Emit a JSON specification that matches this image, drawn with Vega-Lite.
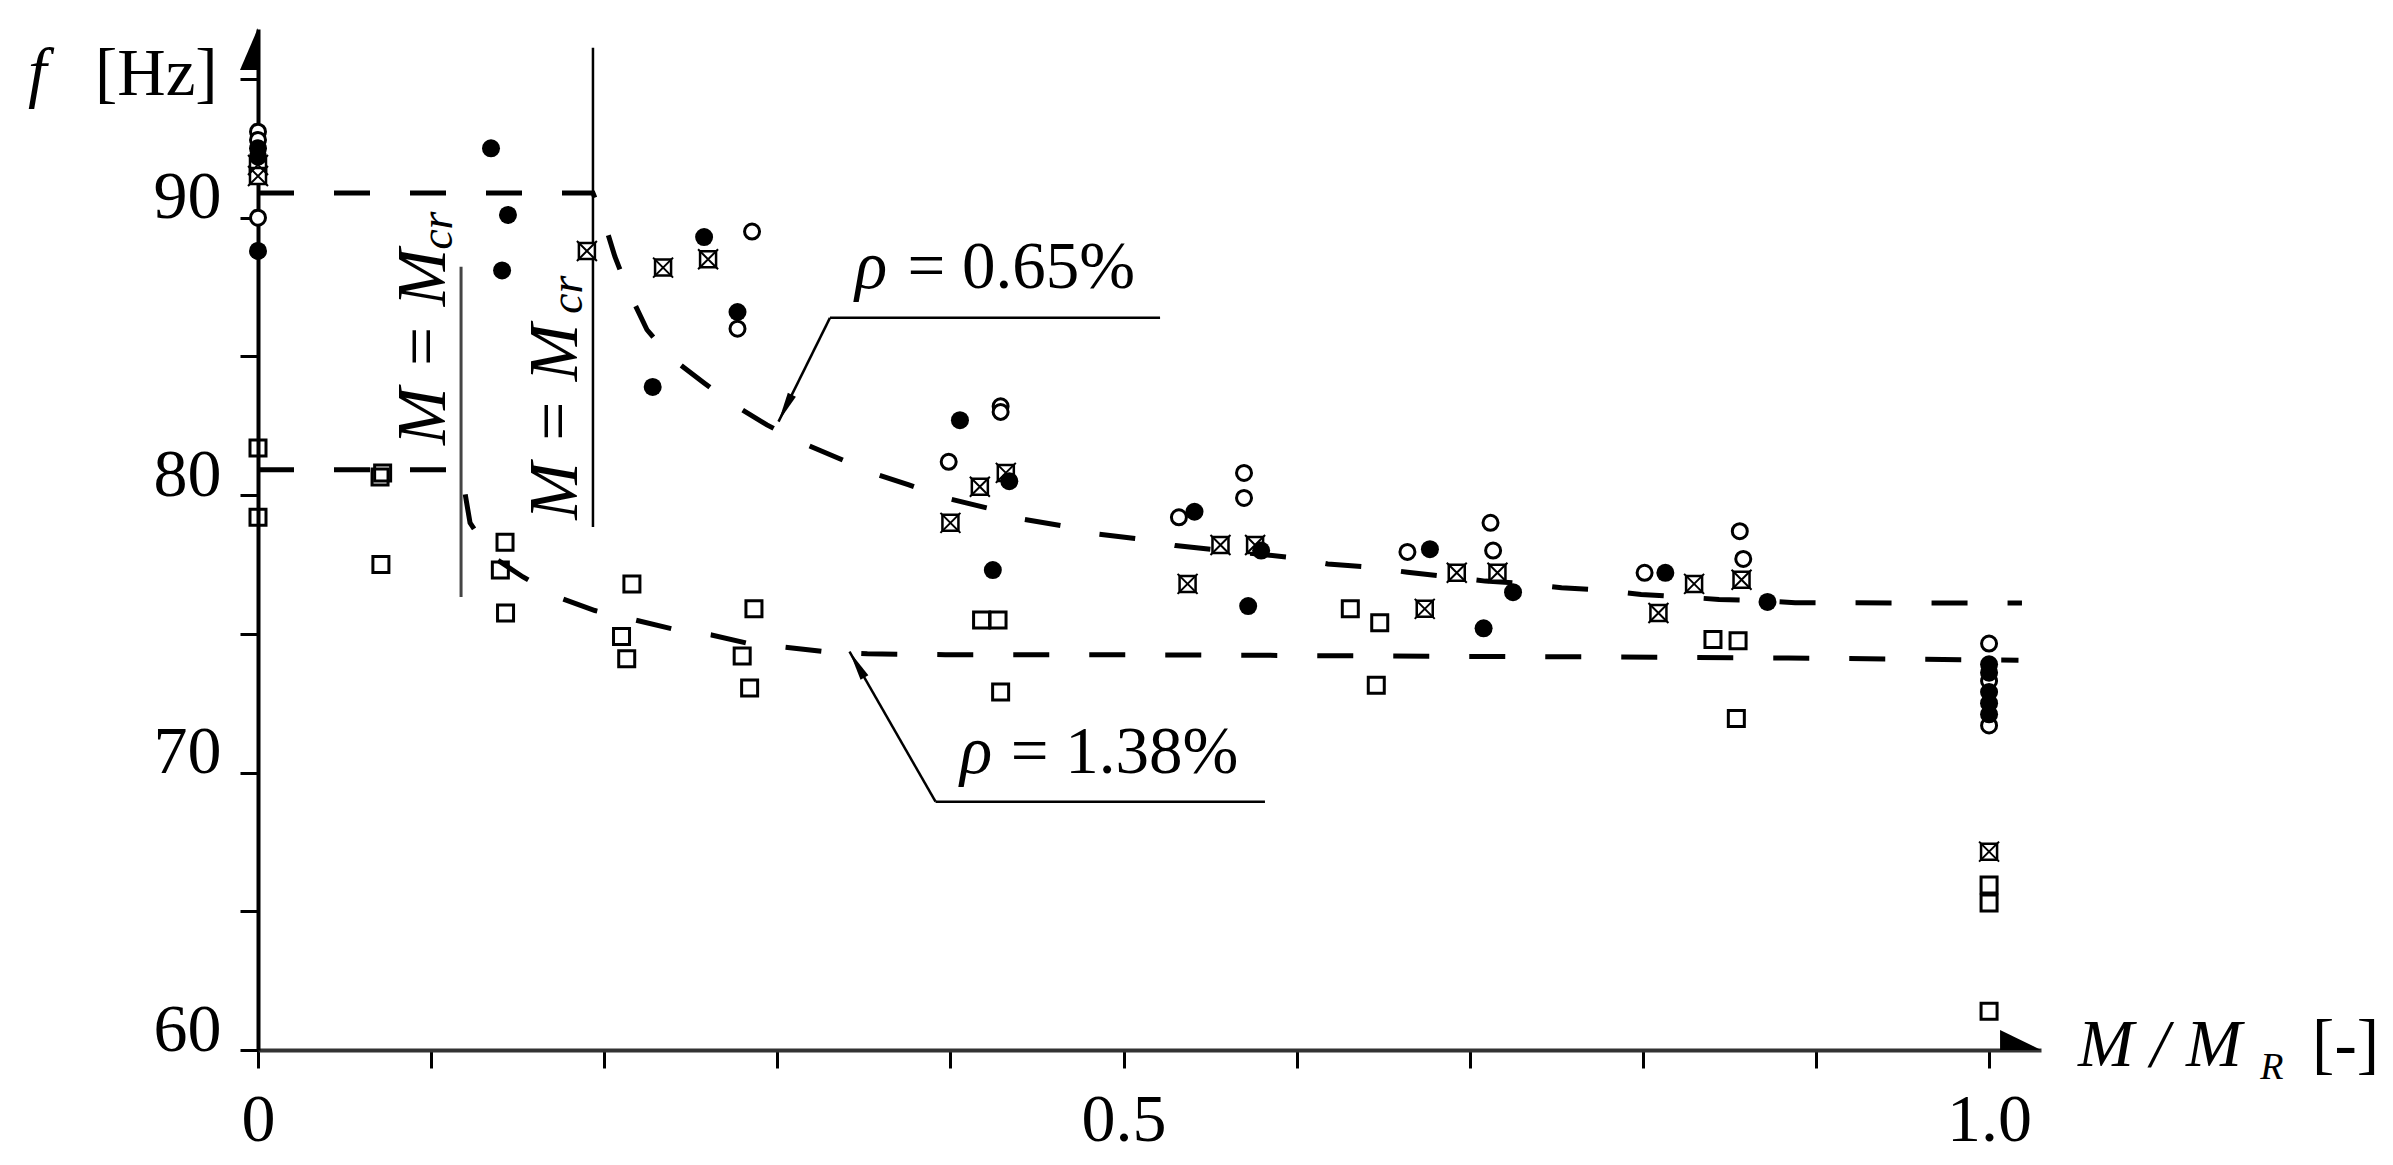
{
  "$schema": "https://vega.github.io/schema/vega-lite/v6.json",
  "width": 1783,
  "height": 1021,
  "autosize": {"type": "none"},
  "padding": {"left": 258, "top": 29, "right": 352, "bottom": 115},
  "background": "white",
  "config": {
    "view": {"stroke": null},
    "font": "Liberation Serif",
    "axis": {"grid": false, "title": null, "domainColor": "#000", "tickColor": "#000", "labelColor": "#000", "labelFont": "Liberation Serif", "labelFontSize": 68, "tickSize": 18, "tickWidth": 3, "domainWidth": 4, "labelFlush": false, "labelOverlap": false, "labelBaseline": "alphabetic"}
  },
  "datasets": {
    "pts": [
      {"x": 0, "f": 92.5, "s": "filled"}, {"x": 0, "f": 92.2, "s": "filled"}, {"x": 0, "f": 88.8, "s": "filled"},
      {"x": 0.1346, "f": 92.5, "s": "filled"}, {"x": 0.1444, "f": 90.1, "s": "filled"}, {"x": 0.141, "f": 88.1, "s": "filled"},
      {"x": 0.228, "f": 83.9, "s": "filled"}, {"x": 0.2577, "f": 89.3, "s": "filled"}, {"x": 0.277, "f": 86.6, "s": "filled"},
      {"x": 0.4055, "f": 82.7, "s": "filled"}, {"x": 0.434, "f": 80.5, "s": "filled"}, {"x": 0.4245, "f": 77.3, "s": "filled"},
      {"x": 0.541, "f": 79.4, "s": "filled"}, {"x": 0.5795, "f": 78.0, "s": "filled"}, {"x": 0.572, "f": 76.0, "s": "filled"},
      {"x": 0.677, "f": 78.05, "s": "filled"}, {"x": 0.725, "f": 76.5, "s": "filled"}, {"x": 0.708, "f": 75.2, "s": "filled"},
      {"x": 0.813, "f": 77.2, "s": "filled"}, {"x": 0.872, "f": 76.15, "s": "filled"},
      {"x": 1, "f": 73.9, "s": "filled"}, {"x": 1, "f": 73.6, "s": "filled"}, {"x": 1, "f": 72.9, "s": "filled"}, {"x": 1, "f": 72.5, "s": "filled"}, {"x": 1, "f": 72.1, "s": "filled"},
      {"x": 0, "f": 93.1, "s": "open"}, {"x": 0, "f": 92.8, "s": "open"}, {"x": 0, "f": 90.0, "s": "open"},
      {"x": 0.2854, "f": 89.5, "s": "open"}, {"x": 0.277, "f": 86.0, "s": "open"},
      {"x": 0.399, "f": 81.2, "s": "open"}, {"x": 0.429, "f": 83.2, "s": "open"}, {"x": 0.429, "f": 83.0, "s": "open"},
      {"x": 0.532, "f": 79.2, "s": "open"}, {"x": 0.5696, "f": 80.8, "s": "open"}, {"x": 0.5696, "f": 79.9, "s": "open"},
      {"x": 0.664, "f": 77.95, "s": "open"}, {"x": 0.712, "f": 79.0, "s": "open"}, {"x": 0.7135, "f": 78.0, "s": "open"},
      {"x": 0.801, "f": 77.2, "s": "open"}, {"x": 0.856, "f": 78.7, "s": "open"}, {"x": 0.858, "f": 77.7, "s": "open"},
      {"x": 1, "f": 74.65, "s": "open"}, {"x": 1, "f": 73.3, "s": "open"}, {"x": 1, "f": 71.7, "s": "open"},
      {"x": 0, "f": 91.9, "s": "crossed"}, {"x": 0, "f": 91.5, "s": "crossed"},
      {"x": 0.19, "f": 88.8, "s": "crossed"}, {"x": 0.234, "f": 88.2, "s": "crossed"}, {"x": 0.26, "f": 88.5, "s": "crossed"},
      {"x": 0.4, "f": 79.0, "s": "crossed"}, {"x": 0.417, "f": 80.3, "s": "crossed"}, {"x": 0.432, "f": 80.8, "s": "crossed"},
      {"x": 0.537, "f": 76.8, "s": "crossed"}, {"x": 0.556, "f": 78.2, "s": "crossed"}, {"x": 0.576, "f": 78.2, "s": "crossed"},
      {"x": 0.674, "f": 75.9, "s": "crossed"}, {"x": 0.6925, "f": 77.2, "s": "crossed"}, {"x": 0.716, "f": 77.2, "s": "crossed"},
      {"x": 0.809, "f": 75.75, "s": "crossed"}, {"x": 0.8296, "f": 76.8, "s": "crossed"}, {"x": 0.857, "f": 76.95, "s": "crossed"},
      {"x": 1, "f": 67.15, "s": "crossed"},
      {"x": 0, "f": 81.7, "s": "square"}, {"x": 0, "f": 79.2, "s": "square"},
      {"x": 0.0705, "f": 80.65, "s": "square"}, {"x": 0.072, "f": 80.8, "s": "square"}, {"x": 0.071, "f": 77.5, "s": "square"},
      {"x": 0.1427, "f": 78.3, "s": "square"}, {"x": 0.14, "f": 77.3, "s": "square"}, {"x": 0.143, "f": 75.75, "s": "square"},
      {"x": 0.216, "f": 76.8, "s": "square"}, {"x": 0.21, "f": 74.9, "s": "square"}, {"x": 0.213, "f": 74.1, "s": "square"},
      {"x": 0.2865, "f": 75.9, "s": "square"}, {"x": 0.2797, "f": 74.2, "s": "square"}, {"x": 0.284, "f": 73.05, "s": "square"},
      {"x": 0.418, "f": 75.5, "s": "square"}, {"x": 0.4275, "f": 75.5, "s": "square"}, {"x": 0.429, "f": 72.9, "s": "square"},
      {"x": 0.631, "f": 75.9, "s": "square"}, {"x": 0.648, "f": 75.4, "s": "square"}, {"x": 0.646, "f": 73.15, "s": "square"},
      {"x": 0.8405, "f": 74.8, "s": "square"}, {"x": 0.855, "f": 74.75, "s": "square"}, {"x": 0.854, "f": 71.95, "s": "square"},
      {"x": 1, "f": 65.95, "s": "square"}, {"x": 1, "f": 65.3, "s": "square"}, {"x": 1, "f": 61.4, "s": "square"}
    ],
    "curves": [
      {"x": 0, "f": 90.89, "c": "0.65"}, {"x": 0.1935, "f": 90.89, "c": "0.65"}, {"x": 0.1993, "f": 89.99, "c": "0.65"},
      {"x": 0.2062, "f": 88.59, "c": "0.65"}, {"x": 0.2137, "f": 87.4, "c": "0.65"}, {"x": 0.2247, "f": 85.96, "c": "0.65"},
      {"x": 0.238, "f": 84.98, "c": "0.65"}, {"x": 0.2577, "f": 84.04, "c": "0.65"}, {"x": 0.2733, "f": 83.32, "c": "0.65"},
      {"x": 0.294, "f": 82.53, "c": "0.65"}, {"x": 0.313, "f": 81.92, "c": "0.65"}, {"x": 0.335, "f": 81.34, "c": "0.65"},
      {"x": 0.355, "f": 80.8, "c": "0.65"}, {"x": 0.376, "f": 80.37, "c": "0.65"}, {"x": 0.397, "f": 79.9, "c": "0.65"},
      {"x": 0.421, "f": 79.54, "c": "0.65"}, {"x": 0.44, "f": 79.15, "c": "0.65"}, {"x": 0.464, "f": 78.9, "c": "0.65"},
      {"x": 0.485, "f": 78.6, "c": "0.65"}, {"x": 0.509, "f": 78.42, "c": "0.65"}, {"x": 0.53, "f": 78.18, "c": "0.65"},
      {"x": 0.5985, "f": 77.74, "c": "0.65"}, {"x": 0.618, "f": 77.52, "c": "0.65"}, {"x": 0.642, "f": 77.4, "c": "0.65"},
      {"x": 0.664, "f": 77.22, "c": "0.65"}, {"x": 0.688, "f": 77.05, "c": "0.65"}, {"x": 0.709, "f": 76.9, "c": "0.65"},
      {"x": 0.734, "f": 76.8, "c": "0.65"}, {"x": 0.753, "f": 76.66, "c": "0.65"}, {"x": 0.778, "f": 76.57, "c": "0.65"},
      {"x": 0.799, "f": 76.42, "c": "0.65"}, {"x": 0.823, "f": 76.33, "c": "0.65"}, {"x": 0.844, "f": 76.24, "c": "0.65"},
      {"x": 0.867, "f": 76.2, "c": "0.65"}, {"x": 0.888, "f": 76.12, "c": "0.65"}, {"x": 1.019, "f": 76.11, "c": "0.65"},
      {"x": 0, "f": 80.91, "c": "1.38"}, {"x": 0.1173, "f": 80.91, "c": "1.38"}, {"x": 0.1225, "f": 79.0, "c": "1.38"},
      {"x": 0.1358, "f": 77.77, "c": "1.38"}, {"x": 0.1531, "f": 77.05, "c": "1.38"}, {"x": 0.1744, "f": 76.3, "c": "1.38"},
      {"x": 0.1946, "f": 75.84, "c": "1.38"}, {"x": 0.2178, "f": 75.5, "c": "1.38"}, {"x": 0.2392, "f": 75.18, "c": "1.38"},
      {"x": 0.262, "f": 74.96, "c": "1.38"}, {"x": 0.2822, "f": 74.67, "c": "1.38"}, {"x": 0.3073, "f": 74.5, "c": "1.38"},
      {"x": 0.3281, "f": 74.35, "c": "1.38"}, {"x": 0.352, "f": 74.28, "c": "1.38"}, {"x": 0.397, "f": 74.25, "c": "1.38"},
      {"x": 0.544, "f": 74.24, "c": "1.38"}, {"x": 0.649, "f": 74.2, "c": "1.38"}, {"x": 0.766, "f": 74.17, "c": "1.38"},
      {"x": 0.884, "f": 74.13, "c": "1.38"}, {"x": 1.017, "f": 74.05, "c": "1.38"}
    ],
    "vlines": [
      {"x": 0.1173, "f": 76.33, "f2": 88.23, "k": "left"},
      {"x": 0.1935, "f": 78.85, "f2": 96.12, "k": "right"}
    ],
    "leaders": [
      {"x": 0.3304, "f": 86.39, "x2": 0.5211, "f2": 86.39},
      {"x": 0.3304, "f": 86.39, "x2": 0.3007, "f2": 82.65},
      {"x": 0.3914, "f": 68.95, "x2": 0.5817, "f2": 68.95},
      {"x": 0.3914, "f": 68.95, "x2": 0.3417, "f2": 74.36}
    ],
    "heads": [
      {"x": 0.3007, "f": 82.65, "k": "a65"},
      {"x": 0.3417, "f": 74.36, "k": "a138"}
    ],
    "axisArrows": [
      {"x": 0, "f": 96.08, "k": "y"},
      {"x": 1.0182, "f": 60, "k": "x"}
    ],
    "texts": [
      {"x": 0.3449, "f": 87.47, "t": "ρ", "k": "it"},
      {"x": 0.3752, "f": 87.47, "t": "= 0.65%", "k": "up"},
      {"x": 0.4056, "f": 69.99, "t": "ρ", "k": "it"},
      {"x": 0.4348, "f": 69.99, "t": "= 1.38%", "k": "up"},
      {"x": -0.1329, "f": 94.43, "t": "f", "k": "it"},
      {"x": -0.0942, "f": 94.43, "t": "[Hz]", "k": "up"},
      {"x": 1.0514, "f": 59.42, "t": "M / M", "k": "it"},
      {"x": 1.1566, "f": 58.95, "t": "R", "k": "sub"},
      {"x": 1.1866, "f": 59.42, "t": "[-]", "k": "up"},
      {"x": 0.108, "f": 81.81, "t": "M = M", "k": "rot"},
      {"x": 0.112, "f": 88.84, "t": "cr", "k": "rotsub"},
      {"x": 0.1843, "f": 79.11, "t": "M = M", "k": "rot"},
      {"x": 0.1872, "f": 86.53, "t": "cr", "k": "rotsub"}
    ]
  },
  "encoding": {
    "x": {"field": "x", "type": "quantitative", "scale": {"domain": [0, 1.03], "nice": false, "zero": false},
      "axis": {"values": [0, 0.1, 0.2, 0.3, 0.4, 0.5, 0.6, 0.7, 0.8, 0.9, 1], "labelExpr": "datum.value == 0 ? '0' : (datum.value == 0.5 ? '0.5' : (datum.value == 1 ? '1.0' : ''))", "labelPadding": 72, "domainColor": "#333"}},
    "y": {"field": "f", "type": "quantitative", "scale": {"domain": [60, 96.8], "nice": false, "zero": false},
      "axis": {"values": [60, 65, 70, 75, 80, 85, 90, 95], "labelExpr": "datum.value % 10 == 0 ? datum.label : ''", "labelPadding": 19}}
  },
  "layer": [
    {
      "data": {"name": "curves"},
      "mark": {"type": "line", "color": "#000", "strokeWidth": 5, "strokeDash": [36, 40], "strokeCap": "butt"},
      "encoding": {"detail": {"field": "c", "type": "nominal"}}
    },
    {
      "data": {"name": "vlines"},
      "transform": [{"filter": "datum.k == 'left'"}],
      "mark": {"type": "rule", "color": "#444", "strokeWidth": 3},
      "encoding": {"y2": {"field": "f2"}}
    },
    {
      "data": {"name": "vlines"},
      "transform": [{"filter": "datum.k == 'right'"}],
      "mark": {"type": "rule", "color": "#000", "strokeWidth": 2.5},
      "encoding": {"y2": {"field": "f2"}}
    },
    {
      "data": {"name": "leaders"},
      "mark": {"type": "rule", "color": "#000", "strokeWidth": 2.5},
      "encoding": {"x2": {"field": "x2"}, "y2": {"field": "f2"}}
    },
    {
      "data": {"name": "heads"},
      "transform": [{"filter": "datum.k == 'a65'"}],
      "mark": {"type": "point", "shape": "M 0 0 L -0.3 2 L 0.3 2 Z", "size": 900, "filled": true, "color": "#000", "opacity": 1, "angle": 206.4}
    },
    {
      "data": {"name": "heads"},
      "transform": [{"filter": "datum.k == 'a138'"}],
      "mark": {"type": "point", "shape": "M 0 0 L -0.3 2 L 0.3 2 Z", "size": 900, "filled": true, "color": "#000", "opacity": 1, "angle": 330.1}
    },
    {
      "data": {"name": "axisArrows"},
      "transform": [{"filter": "datum.k == 'y'"}],
      "mark": {"type": "point", "shape": "M 0 -1 L 0 1 L -0.857 1 Z", "size": 1764, "filled": true, "color": "#000", "opacity": 1}
    },
    {
      "data": {"name": "axisArrows"},
      "transform": [{"filter": "datum.k == 'x'"}],
      "mark": {"type": "point", "shape": "M -1 -0.976 L -1 0 L 1 0 Z", "size": 1681, "filled": true, "color": "#000", "opacity": 1}
    },
    {
      "data": {"name": "pts"},
      "transform": [{"filter": "datum.s == 'square'"}],
      "mark": {"type": "point", "shape": "square", "size": 256, "filled": false, "stroke": "#000", "strokeWidth": 3, "opacity": 1}
    },
    {
      "data": {"name": "pts"},
      "transform": [{"filter": "datum.s == 'crossed'"}],
      "mark": {"type": "point", "shape": "square", "size": 256, "filled": true, "fill": "white", "stroke": "#000", "strokeWidth": 2.5, "opacity": 1}
    },
    {
      "data": {"name": "pts"},
      "transform": [{"filter": "datum.s == 'crossed'"}],
      "mark": {"type": "point", "shape": "M -1 -1 L 1 1 M 1 -1 L -1 1", "size": 400, "filled": false, "stroke": "#000", "strokeWidth": 2, "opacity": 1}
    },
    {
      "data": {"name": "pts"},
      "transform": [{"filter": "datum.s == 'open'"}],
      "mark": {"type": "point", "shape": "circle", "size": 225, "filled": true, "fill": "white", "stroke": "#000", "strokeWidth": 3, "opacity": 1}
    },
    {
      "data": {"name": "pts"},
      "transform": [{"filter": "datum.s == 'filled'"}],
      "mark": {"type": "point", "shape": "circle", "size": 324, "filled": true, "color": "#000", "opacity": 1}
    },
    {
      "data": {"name": "texts"},
      "transform": [{"filter": "datum.k == 'it'"}],
      "mark": {"type": "text", "font": "Liberation Serif", "fontStyle": "italic", "fontSize": 67, "align": "left", "baseline": "alphabetic", "color": "#000"},
      "encoding": {"text": {"field": "t"}}
    },
    {
      "data": {"name": "texts"},
      "transform": [{"filter": "datum.k == 'up'"}],
      "mark": {"type": "text", "font": "Liberation Serif", "fontSize": 67, "align": "left", "baseline": "alphabetic", "color": "#000"},
      "encoding": {"text": {"field": "t"}}
    },
    {
      "data": {"name": "texts"},
      "transform": [{"filter": "datum.k == 'sub'"}],
      "mark": {"type": "text", "font": "Liberation Serif", "fontStyle": "italic", "fontSize": 38, "align": "left", "baseline": "alphabetic", "color": "#000"},
      "encoding": {"text": {"field": "t"}}
    },
    {
      "data": {"name": "texts"},
      "transform": [{"filter": "datum.k == 'rot'"}],
      "mark": {"type": "text", "font": "Liberation Serif", "fontStyle": "italic", "fontSize": 69, "align": "left", "baseline": "alphabetic", "angle": 270, "color": "#000"},
      "encoding": {"text": {"field": "t"}}
    },
    {
      "data": {"name": "texts"},
      "transform": [{"filter": "datum.k == 'rotsub'"}],
      "mark": {"type": "text", "font": "Liberation Serif", "fontStyle": "italic", "fontSize": 46, "align": "left", "baseline": "alphabetic", "angle": 270, "color": "#000"},
      "encoding": {"text": {"field": "t"}}
    }
  ]
}
